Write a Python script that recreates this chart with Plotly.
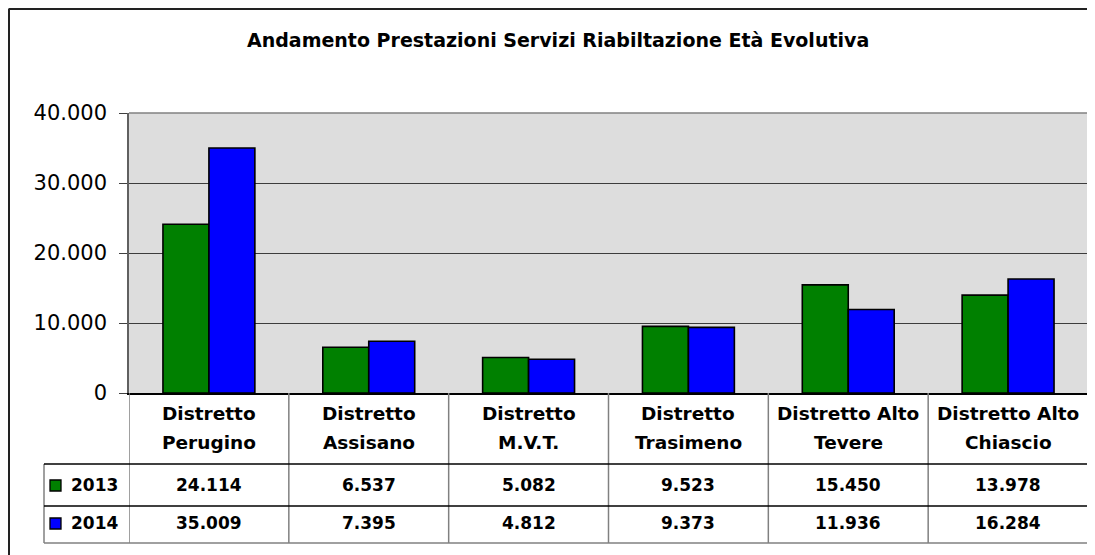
import plotly.graph_objects as go

# data
categories = ["Distretto<br>Perugino", "Distretto<br>Assisano", "Distretto<br>M.V.T.",
              "Distretto<br>Trasimeno", "Distretto Alto<br>Tevere", "Distretto Alto<br>Chiascio"]
years = ["2013", "2014"]
values_2013 = [24114, 6537, 5082, 9523, 15450, 13978]
values_2014 = [35009, 7395, 4812, 9373, 11936, 16284]
y_ticks = [0, 10000, 20000, 30000, 40000]
title_text = "Andamento Prestazioni Servizi Riabiltazione Età Evolutiva"

# page body has an 8px margin, so the figure is sized to fill the rest of the window
OFF = 8
W, H = 1095 - OFF, 555 - OFF
colors = ["#008000", "#0000FF"]
FONT = "DejaVu Sans"


def px(x):
    return (x - OFF) / W


def py(y):
    return 1 - (y - OFF) / H


def fmt(v):
    return f"{v:,}".replace(",", ".")


fig = go.Figure()
for name, vals, col in zip(years, [values_2013, values_2014], colors):
    fig.add_trace(go.Bar(
        name=name, x=list(range(len(categories))), y=vals,
        marker=dict(color=col, line=dict(color="black", width=1.6)),
        showlegend=False))

# plot area in (window) pixels
L, R, T, B = 129, 1088, 113, 393
tbl_top, row1, row2, tbl_bot = 393, 464, 506, 543

gray = dict(color="#808080", width=1.5)
shapes = []
# plot top / right border
shapes.append(dict(type="line", xref="paper", yref="paper", x0=px(L), x1=px(R), y0=py(T), y1=py(T), line=gray))
shapes.append(dict(type="line", xref="paper", yref="paper", x0=px(R), x1=px(R), y0=py(T), y1=py(tbl_bot), line=gray))
# table vertical lines at category boundaries
for i in range(len(categories)):
    shapes.append(dict(type="line", xref="x", yref="paper", x0=i - 0.5, x1=i - 0.5,
                       y0=py(tbl_top), y1=py(tbl_bot), line=gray))
# legend column box
shapes.append(dict(type="line", xref="paper", yref="paper", x0=px(44), x1=px(44), y0=py(row1), y1=py(tbl_bot), line=gray))
shapes.append(dict(type="line", xref="paper", yref="paper", x0=px(44), x1=px(R), y0=py(row1), y1=py(row1),
                   line=dict(color="black", width=1.3)))
shapes.append(dict(type="line", xref="paper", yref="paper", x0=px(44), x1=px(R), y0=py(row2), y1=py(row2),
                   line=dict(color="black", width=1.3)))
shapes.append(dict(type="line", xref="paper", yref="paper", x0=px(44), x1=px(R), y0=py(tbl_bot), y1=py(tbl_bot), line=gray))
# outer chart frame
shapes.append(dict(type="line", xref="paper", yref="paper", x0=px(8.5), x1=1, y0=py(9), y1=py(9),
                   line=dict(color="#222", width=2)))
shapes.append(dict(type="line", xref="paper", yref="paper", x0=px(9), x1=px(9), y0=py(9), y1=0,
                   line=dict(color="#222", width=2)))

annotations = [dict(text=f"<b>{title_text}</b>", xref="paper", yref="paper", x=px(558), y=py(40),
                    xanchor="center", yanchor="middle",
                    showarrow=False, font=dict(family=FONT, size=19, color="black"))]

# category header cells
for i, c in enumerate(categories):
    for k, line in enumerate(c.split("<br>")):
        annotations.append(dict(text=f"<b>{line}</b>", xref="x", yref="paper", x=i, y=py(413 + 29 * k),
                                xanchor="center", yanchor="middle",
                                showarrow=False, font=dict(family=FONT, size=18.5, color="black")))

# value rows + legend keys
row_centers = [485, 523]
for r, (name, vals, col) in enumerate(zip(years, [values_2013, values_2014], colors)):
    yc = row_centers[r]
    for i, v in enumerate(vals):
        annotations.append(dict(text=f"<b>{fmt(v)}</b>", xref="x", yref="paper", x=i, y=py(yc),
                                xanchor="center", yanchor="middle",
                                showarrow=False, font=dict(family=FONT, size=17, color="black")))
    annotations.append(dict(text=f"<b>{name}</b>", xref="paper", yref="paper", x=px(69), y=py(yc),
                            xanchor="left", yanchor="middle",
                            showarrow=False, font=dict(family=FONT, size=17, color="black")))
    shapes.append(dict(type="rect", xref="paper", yref="paper", x0=px(50), x1=px(61),
                       y0=py(yc - 5), y1=py(yc + 6), fillcolor=col, line=dict(color="black", width=1.3)))

fig.update_layout(
    width=W, height=H,
    margin=dict(l=0, r=0, t=0, b=0, autoexpand=False),
    paper_bgcolor="white",
    plot_bgcolor="#DDDDDD",
    barmode="group", bargap=0.425, bargroupgap=0,
    separators=",.",
    shapes=shapes,
    annotations=annotations,
)
fig.update_xaxes(domain=[px(L), px(R)], range=[-0.5, len(categories) - 0.5],
                 showticklabels=False, showgrid=False, zeroline=False, automargin=False,
                 showline=True, linecolor="black", linewidth=1.5, ticks="")
fig.update_yaxes(domain=[py(B), py(T)], range=[0, 40000], tickvals=y_ticks, tickformat=",d",
                 showgrid=True, gridcolor="#3c3c3c", gridwidth=1, zeroline=False, automargin=False,
                 showline=True, linecolor="#606060", linewidth=1.5,
                 ticks="outside", ticklen=8, tickcolor="#404040", tickwidth=1.3,
                 ticklabelstandoff=8,
                 tickfont=dict(family=FONT, size=21, color="black"))

fig.write_html("out.html")
